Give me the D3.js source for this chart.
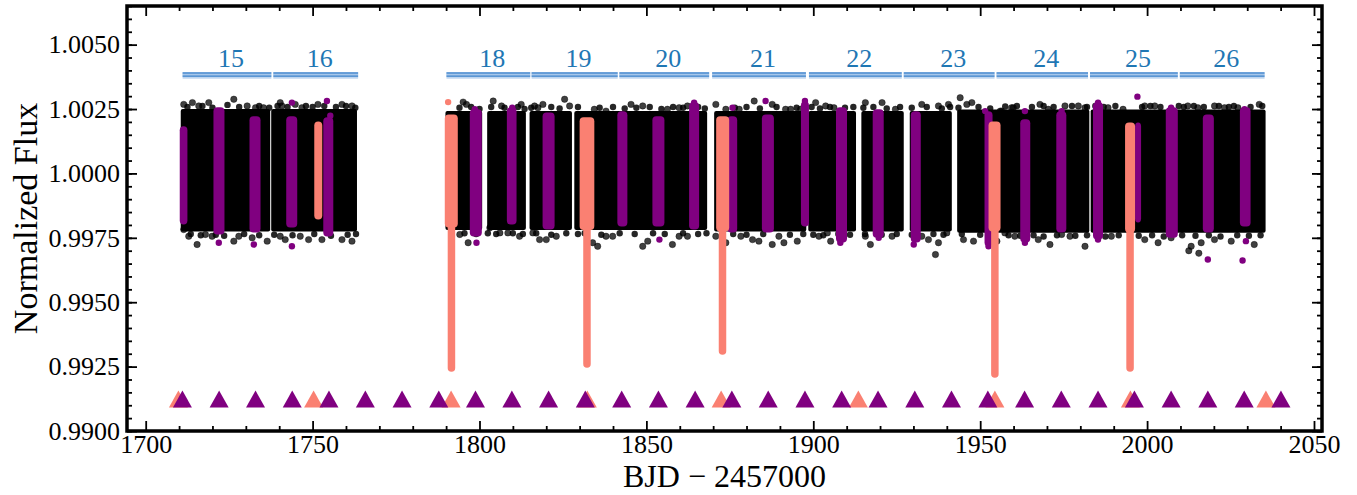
<!DOCTYPE html>
<html>
<head>
<meta charset="utf-8">
<script src="https://cdn.jsdelivr.net/npm/d3@7"></script>
<style>
  body { margin: 0; background: #fff; }
  svg text { font-family: "Liberation Serif", "DejaVu Serif", serif; }
  .tick line { stroke: #000; stroke-width: 1.8px; }
</style>
</head>
<body>
<div id="chart"></div>
<script>
// ---- data ----

// TESS sectors shown above the light curve
var sectorNames = ["15", "16", "18", "19", "20", "21", "22", "23", "24", "25", "26"];
var sectorStart = [1711.05, 1738.24, 1790.1, 1815.6, 1841.9, 1869.7, 1898.7, 1927.1, 1954.9, 1982.9, 2009.8];
var sectorEnd   = [1737.65, 1763.64, 1815.2, 1841.4, 1868.8, 1897.8, 1926.5, 1954.3, 1982.3, 2009.2, 2035.2];

// dense out-of-transit flux per orbit: [start, end, low, high]
var bandSegments = [
  [1710.5, 1737.3, 0.99775, 1.00250],
  [1737.6, 1763.3, 0.99775, 1.00250],
  [1789.8, 1800.8, 0.99780, 1.00242],
  [1802.3, 1813.9, 0.99780, 1.00242],
  [1815.0, 1827.7, 0.99780, 1.00242],
  [1828.4, 1868.2, 0.99780, 1.00242],
  [1870.3, 1897.9, 0.99775, 1.00242],
  [1898.5, 1912.8, 0.99775, 1.00242],
  [1914.4, 1927.1, 0.99775, 1.00242],
  [1928.9, 1941.5, 0.99775, 1.00242],
  [1943.1, 1982.7, 0.99770, 1.00248],
  [1983.1, 2035.5, 0.99770, 1.00248]
];

// ragged rim of the dense band: [time, flux]
var bandEdge = [
  [1712.5,1.00258],[1717.0,1.00262],[1720.0,1.00255],[1724.5,1.00266],[1728.0,1.00258],[1734.0,1.00262],
  [1737.0,1.00255],[1739.5,1.00262],[1742.5,1.00258],[1748.0,1.00262],[1750.0,1.00258],[1753.5,1.00262],
  [1757.0,1.00258],[1760.0,1.00262],[1762.8,1.00255],
  [1713.5,0.99765],[1716.5,0.99760],[1721.0,0.99762],[1723.5,0.99758],[1729.5,0.99765],[1734.0,0.99760],
  [1738.5,0.99762],[1744.0,0.99760],[1750.5,0.99765],[1755.5,0.99758],[1760.5,0.99762],[1763.0,0.99765],
  [1794.0,1.00255],[1797.5,1.00258],[1800.0,1.00250],[1803.5,1.00258],[1807.5,1.00255],[1811.5,1.00258],
  [1813.5,1.00250],[1815.5,1.00255],[1821.5,1.00258],[1824.0,1.00252],[1829.5,1.00258],[1836.0,1.00255],
  [1840.0,1.00258],[1843.5,1.00252],[1847.0,1.00255],[1851.0,1.00258],[1854.5,1.00250],[1858.0,1.00258],
  [1861.0,1.00255],[1865.5,1.00258],[1867.5,1.00252],
  [1795.5,0.99768],[1799.0,0.99765],[1802.5,0.99768],[1805.0,0.99765],[1810.0,0.99768],[1813.0,0.99765],
  [1817.0,0.99768],[1821.5,0.99762],[1826.0,0.99768],[1829.5,0.99765],[1831.5,0.99768],[1836.5,0.99762],
  [1842.0,0.99768],[1846.5,0.99765],[1852.0,0.99768],[1855.5,0.99765],[1861.0,0.99768],[1865.5,0.99765],
  [1868.0,0.99768],
  [1876.5,1.00255],[1880.0,1.00258],[1884.0,1.00252],[1889.0,1.00258],[1895.0,1.00255],[1899.5,1.00258],
  [1902.0,1.00252],[1905.0,1.00258],[1909.5,1.00255],[1912.0,1.00258],[1915.0,1.00255],[1918.0,1.00258],
  [1922.0,1.00252],[1926.0,1.00258],[1929.5,1.00255],[1934.0,1.00258],[1938.5,1.00252],[1941.0,1.00258],
  [1943.5,1.00255],[1949.5,1.00258],[1953.0,1.00252],
  [1876.0,0.99765],[1880.0,0.99762],[1885.0,0.99765],[1893.0,0.99762],[1897.0,0.99765],[1900.0,0.99762],
  [1903.0,0.99760],[1907.5,0.99765],[1911.0,0.99762],[1915.5,0.99765],[1920.5,0.99762],[1925.0,0.99765],
  [1929.5,0.99762],[1936.0,0.99765],[1939.0,0.99762],[1944.5,0.99765],[1950.0,0.99762],
  [1957.5,1.00260],[1961.0,1.00262],[1965.5,1.00258],[1969.0,1.00262],[1972.0,1.00258],[1977.5,1.00262],
  [1982.0,1.00258],[1984.5,1.00262],[1987.0,1.00258],[1990.5,1.00262],[1998.5,1.00258],[2001.0,1.00262],
  [2004.0,1.00258],[2009.5,1.00262],[2011.0,1.00258],[2014.0,1.00262],[2017.0,1.00258],[2021.5,1.00262],
  [2024.5,1.00258],[2026.0,1.00262],[2031.0,1.00258],[2034.5,1.00262],
  [1958.5,0.99760],[1962.0,0.99758],[1966.0,0.99760],[1969.0,0.99755],[1973.0,0.99760],[1978.5,0.99758],
  [1982.0,0.99760],[1987.5,0.99755],[1991.5,0.99760],[1997.5,0.99758],[2001.5,0.99760],[2005.0,0.99755],
  [2010.5,0.99760],[2014.5,0.99758],[2018.5,0.99760],[2022.0,0.99755],[2027.0,0.99760],[2030.5,0.99758],
  [2034.0,0.99760]
];

// scattered points beyond the dense band: [time, flux]
var blackOutliers = [
  [1711.4,1.00268],[1714.0,1.00275],[1715.9,1.00262],[1718.9,1.00275],[1726.4,1.00288],[1730.4,1.00262],
  [1732.9,1.00255],[1735.3,1.00255],[1740.3,1.00275],[1740.8,1.00262],[1744.8,1.00268],[1746.8,1.00255],
  [1751.6,1.00268],[1758.8,1.00268],[1761.8,1.00262],
  [1711.4,0.99782],[1712.9,0.99756],[1715.4,0.99724],[1717.9,0.99763],[1719.9,0.99756],[1726.4,0.99737],
  [1727.9,0.99756],[1731.9,0.99750],[1736.4,0.99737],[1740.3,0.99756],[1741.8,0.99743],[1746.3,0.99756],
  [1748.8,0.99743],[1752.8,0.99743],[1758.8,0.99743],[1761.8,0.99737],
  [1795.1,1.00277],[1796.1,1.00268],[1804.1,1.00281],[1806.6,1.00262],[1812.5,1.00268],[1816.5,1.00262],
  [1817.5,1.00255],[1819.0,1.00268],[1825.5,1.00288],[1827.0,1.00262],[1834.4,1.00249],[1837.9,1.00242],
  [1845.4,1.00268],[1848.9,1.00262],[1856.3,1.00249],[1859.8,1.00255],[1862.3,1.00262],[1870.8,1.00268],
  [1873.8,1.00249],
  [1794.1,0.99763],[1796.6,0.99731],[1803.1,0.99789],[1806.1,0.99769],[1808.5,0.99769],[1812.0,0.99756],
  [1816.0,0.99769],[1818.0,0.99743],[1820.0,0.99743],[1823.0,0.99756],[1833.9,0.99731],[1835.4,0.99717],
  [1837.9,0.99756],[1839.9,0.99756],[1848.9,0.99717],[1850.4,0.99737],[1857.8,0.99724],[1859.8,0.99756],
  [1862.3,0.99756],[1870.8,0.99756],[1873.8,0.99731],
  [1877.8,1.00249],[1882.3,1.00281],[1887.7,1.00268],[1891.7,1.00249],[1893.2,1.00249],[1896.2,1.00249],
  [1900.7,1.00275],[1903.7,1.00262],[1906.2,1.00255],[1915.6,1.00275],[1920.6,1.00275],[1924.6,1.00249],
  [1932.5,1.00268],[1937.5,1.00262],[1940.5,1.00268],[1944.0,1.00294],[1946.0,1.00268],[1947.5,1.00275],
  [1956.0,1.00242],[1959.4,1.00255],
  [1878.3,0.99756],[1881.8,0.99743],[1883.7,0.99737],[1887.7,0.99724],[1889.7,0.99756],[1891.2,0.99731],
  [1895.2,0.99737],[1901.7,0.99756],[1904.2,0.99769],[1905.2,0.99737],[1915.6,0.99756],[1917.1,0.99724],
  [1923.6,0.99756],[1932.5,0.99756],[1934.5,0.99743],[1936.6,0.99685],[1937.5,0.99731],[1940.0,0.99769],
  [1945.0,0.99743],[1948.0,0.99737],[1955.0,0.99737],
  [1956.4,1.00242],[1959.9,1.00255],[1967.9,1.00268],[1970.4,1.00249],[1975.4,1.00262],[1979.4,1.00262],
  [1981.4,1.00255],[1988.3,1.00255],[1992.8,1.00249],[1999.3,1.00262],[2002.3,1.00262],[2012.2,1.00262],
  [2015.2,1.00255],[2020.2,1.00262],[2023.2,1.00255],[2027.2,1.00255],[2033.6,1.00268],
  [1957.4,0.99769],[1960.4,0.99756],[1967.4,0.99743],[1970.9,0.99724],[1974.4,0.99763],[1976.9,0.99756],
  [1981.4,0.99717],[1989.3,0.99756],[1999.3,0.99743],[2003.3,0.99731],[2007.2,0.99750],[2012.5,0.99700],
  [2013.2,0.99717],[2015.5,0.99690],[2016.2,0.99731],[2020.2,0.99743],[2025.2,0.99737],[2032.1,0.99724]
];

// in-transit points of the shallow planet: [start, end, low, high]
var purpleColumns = [
  [1710.2, 1712.5, 0.99802, 1.00183],
  [1720.3, 1723.6, 0.99763, 1.00257],
  [1731.1, 1734.4, 0.99771, 1.00222],
  [1742.1, 1745.4, 0.99790, 1.00222],
  [1753.2, 1756.2, 0.99755, 1.00218],
  [1797.1, 1800.7, 0.99755, 1.00249],
  [1808.2, 1811.1, 0.99802, 1.00257],
  [1818.9, 1822.5, 0.99782, 1.00237],
  [1841.3, 1844.3, 0.99794, 1.00241],
  [1851.8, 1855.4, 0.99794, 1.00222],
  [1862.8, 1865.8, 0.99782, 1.00276],
  [1874.2, 1877.2, 0.99771, 1.00222],
  [1884.6, 1888.2, 0.99771, 1.00229],
  [1896.3, 1898.7, 0.99794, 1.00280],
  [1906.8, 1910.1, 0.99732, 1.00257],
  [1917.8, 1921.1, 0.99750, 1.00249],
  [1929.2, 1932.2, 0.99732, 1.00241],
  [1951.3, 1953.7, 0.99716, 1.00241],
  [1962.0, 1965.0, 0.99732, 1.00210],
  [1972.8, 1975.8, 0.99771, 1.00241],
  [1983.8, 1986.8, 0.99743, 1.00276],
  [1996.4, 1998.2, 0.99809, 1.00198],
  [2005.6, 2009.2, 0.99750, 1.00257],
  [2016.7, 2020.0, 0.99771, 1.00229],
  [2027.8, 2031.0, 0.99794, 1.00257]
];
var purpleOutliers = [
  [1721.9,0.99731],[1732.4,0.99724],[1743.8,0.99717],[1743.8,1.00275],[1754.3,1.00281],[1755.3,1.00224],
  [1798.6,1.00249],[1809.8,1.00255],[1799.1,0.99731],[1853.9,0.99743],[1864.3,1.00275],[1875.8,1.00255],
  [1885.7,1.00281],[1897.5,1.00281],[1951.5,1.00242],[1908.1,0.99731],[1919.6,0.99750],[1930.1,0.99724],
  [1952.5,0.99717],[1963.4,1.00242],[1974.4,1.00242],[1985.3,1.00275],[1997.1,1.00298],[2007.2,1.00255],
  [2029.2,1.00249],[1963.4,0.99731],[1985.3,0.99743],[2029.6,0.99737],[2018.2,0.99666],[2028.6,0.99662]
];

// in-transit points of the deep planet: [start, end, low, high, centre, deepest]
var salmonColumns = [
  [1750.5, 1752.9, 0.99821, 1.00202, null, null],
  [1789.6, 1793.5, 0.99790, 1.00229, 1791.6, 0.99230],
  [1830.0, 1834.4, 0.99780, 1.00218, 1832.2, 0.99246],
  [1870.9, 1874.8, 0.99775, 1.00222, 1872.8, 0.99296],
  [1952.5, 1956.1, 0.99775, 1.00202, 1954.4, 0.99207],
  [1993.4, 1996.4, 0.99770, 1.00198, 1994.9, 0.99230]
];
var salmonOutliers = [[1790.6, 1.00277]];

// predicted transit times (triangles)
var salmonTransits = [1709.8, 1750.3, 1791.5, 1832.3, 1872.4, 1913.5, 1954.4, 1995.0, 2035.6];
var purpleTransits = [1711.0, 1722.0, 1732.9, 1743.9, 1754.9, 1765.8, 1776.8, 1787.8, 1798.8, 1809.7,
  1820.7, 1831.7, 1842.6, 1853.6, 1864.6, 1875.6, 1886.5, 1897.5, 1908.5, 1919.4, 1930.4, 1941.4,
  1952.3, 1963.3, 1974.3, 1985.3, 1996.2, 2007.2, 2018.2, 2029.1, 2040.1];

var xMajorTicks = [1700, 1750, 1800, 1850, 1900, 1950, 2000, 2050];
var yMajorTicks = [0.9900, 0.9925, 0.9950, 0.9975, 1.0000, 1.0025, 1.0050];

// ---- layout ----
var svgWidth = 1357;
var svgHeight = 495;
var margin = { top: 6, right: 35, bottom: 64, left: 127 };
var width = svgWidth - margin.left - margin.right;
var height = svgHeight - margin.top - margin.bottom;
var serif = '"Liberation Serif", "DejaVu Serif", serif';

var svg = d3.select("#chart").append("svg")
  .attr("width", svgWidth)
  .attr("height", svgHeight)
  .attr("font-family", serif);

var chartGroup = svg.append("g")
  .attr("transform", `translate(${margin.left}, ${margin.top})`);

var xScale = d3.scaleLinear().domain([1694.4, 2052.4]).range([0, width]);
var yScale = d3.scaleLinear().domain([0.99, 1.0065]).range([height, 0]);

var ptR = 3.2;

// black band
chartGroup.append("g").selectAll("rect")
  .data(bandSegments).enter().append("rect")
  .attr("x", d => xScale(d[0]))
  .attr("width", d => xScale(d[1]) - xScale(d[0]))
  .attr("y", d => yScale(d[3]))
  .attr("height", d => yScale(d[2]) - yScale(d[3]))
  .attr("rx", 2)
  .attr("fill", "#000");

chartGroup.append("g").selectAll("circle")
  .data(bandEdge).enter().append("circle")
  .attr("cx", d => xScale(d[0]))
  .attr("cy", d => yScale(d[1]))
  .attr("r", ptR)
  .attr("fill", "#000")
  .attr("fill-opacity", 0.85);

chartGroup.append("g").selectAll("circle")
  .data(blackOutliers).enter().append("circle")
  .attr("cx", d => xScale(d[0]))
  .attr("cy", d => yScale(d[1]))
  .attr("r", ptR)
  .attr("fill", "#000")
  .attr("fill-opacity", 0.75)
  .attr("stroke", "#000")
  .attr("stroke-opacity", 0.5)
  .attr("stroke-width", 0.8);

// purple transits
chartGroup.append("g").selectAll("rect")
  .data(purpleColumns).enter().append("rect")
  .attr("x", d => xScale(d[0]))
  .attr("width", d => xScale(d[1]) - xScale(d[0]))
  .attr("y", d => yScale(d[3]))
  .attr("height", d => yScale(d[2]) - yScale(d[3]))
  .attr("rx", 4)
  .attr("fill", "#800080");

chartGroup.append("g").selectAll("circle")
  .data(purpleOutliers).enter().append("circle")
  .attr("cx", d => xScale(d[0]))
  .attr("cy", d => yScale(d[1]))
  .attr("r", ptR)
  .attr("fill", "#800080");

// salmon transits
chartGroup.append("g").selectAll("rect")
  .data(salmonColumns).enter().append("rect")
  .attr("x", d => xScale(d[0]))
  .attr("width", d => xScale(d[1]) - xScale(d[0]))
  .attr("y", d => yScale(d[3]))
  .attr("height", d => yScale(d[2]) - yScale(d[3]))
  .attr("rx", 4)
  .attr("fill", "#fa8072");

chartGroup.append("g").selectAll("line")
  .data(salmonColumns.filter(d => d[4] !== null)).enter().append("line")
  .attr("x1", d => xScale(d[4]))
  .attr("x2", d => xScale(d[4]))
  .attr("y1", d => yScale(d[2]))
  .attr("y2", d => yScale(d[5]) - 3.75)
  .attr("stroke", "#fa8072")
  .attr("stroke-width", 7.5)
  .attr("stroke-linecap", "round");

chartGroup.append("g").selectAll("circle")
  .data(salmonOutliers).enter().append("circle")
  .attr("cx", d => xScale(d[0]))
  .attr("cy", d => yScale(d[1]))
  .attr("r", ptR)
  .attr("fill", "#fa8072");

// transit markers
var triFlux = 0.99124;
var triPath = "M0,-8.5L9.5,8.5L-9.5,8.5Z";
chartGroup.append("g").selectAll("path")
  .data(salmonTransits).enter().append("path")
  .attr("d", triPath)
  .attr("transform", d => `translate(${xScale(d)}, ${yScale(triFlux)})`)
  .attr("fill", "#fa8072");
chartGroup.append("g").selectAll("path")
  .data(purpleTransits).enter().append("path")
  .attr("d", triPath)
  .attr("transform", d => `translate(${xScale(d)}, ${yScale(triFlux)})`)
  .attr("fill", "#800080");

// sector bars and labels
var barY = yScale(1.0038);
var sectorGroup = chartGroup.append("g");
sectorNames.forEach(function(name, i) {
  var x0 = xScale(sectorStart[i]);
  var x1 = xScale(sectorEnd[i]);
  sectorGroup.append("rect")
    .attr("x", x0).attr("width", x1 - x0)
    .attr("y", barY - 3.4).attr("height", 6.8)
    .attr("fill", "#cfe0f4");
  sectorGroup.append("rect")
    .attr("x", x0).attr("width", x1 - x0)
    .attr("y", barY - 3.4).attr("height", 1.8)
    .attr("fill", "#5a96d4");
  sectorGroup.append("rect")
    .attr("x", x0).attr("width", x1 - x0)
    .attr("y", barY - 1.6).attr("height", 1.3)
    .attr("fill", "#a6c6ea");
  sectorGroup.append("rect")
    .attr("x", x0).attr("width", x1 - x0)
    .attr("y", barY - 0.3).attr("height", 1.9)
    .attr("fill", "#5a96d4");
  sectorGroup.append("text")
    .attr("x", (x0 + x1) / 2 + 4)
    .attr("y", barY - 9)
    .attr("text-anchor", "middle")
    .attr("font-size", "26px")
    .attr("fill", "#1f77b4")
    .text(name);
});

// axes (ticks pointing inward on all four sides)
var xMinor = d3.range(1700, 2051, 10).filter(v => v % 50 !== 0);
var yMinor = d3.range(0, 34).map(i => 0.99 + i * 0.0005).filter(v => v <= 1.0065);

function styleAxis(g) {
  g.attr("font-family", serif).attr("font-size", "26px");
  g.select(".domain").remove();
  g.selectAll("text").attr("fill", "#000");
}

chartGroup.append("g")
  .attr("transform", `translate(0, ${height})`)
  .call(d3.axisBottom(xScale).tickValues(xMajorTicks).tickFormat(d3.format("d"))
    .tickSizeInner(-10).tickSizeOuter(0).tickPadding(4))
  .call(styleAxis);
chartGroup.append("g")
  .attr("transform", `translate(0, ${height})`)
  .call(d3.axisBottom(xScale).tickValues(xMinor).tickFormat("").tickSizeInner(-5).tickSizeOuter(0))
  .call(styleAxis);
chartGroup.append("g")
  .call(d3.axisTop(xScale).tickValues(xMajorTicks).tickFormat("").tickSizeInner(-10).tickSizeOuter(0))
  .call(styleAxis);
chartGroup.append("g")
  .call(d3.axisTop(xScale).tickValues(xMinor).tickFormat("").tickSizeInner(-5).tickSizeOuter(0))
  .call(styleAxis);

chartGroup.append("g")
  .call(d3.axisLeft(yScale).tickValues(yMajorTicks).tickFormat(d3.format(".4f"))
    .tickSizeInner(-10).tickSizeOuter(0).tickPadding(7))
  .call(styleAxis);
chartGroup.append("g")
  .call(d3.axisLeft(yScale).tickValues(yMinor).tickFormat("").tickSizeInner(-5).tickSizeOuter(0))
  .call(styleAxis);
chartGroup.append("g")
  .attr("transform", `translate(${width}, 0)`)
  .call(d3.axisRight(yScale).tickValues(yMajorTicks).tickFormat("").tickSizeInner(-10).tickSizeOuter(0))
  .call(styleAxis);
chartGroup.append("g")
  .attr("transform", `translate(${width}, 0)`)
  .call(d3.axisRight(yScale).tickValues(yMinor).tickFormat("").tickSizeInner(-5).tickSizeOuter(0))
  .call(styleAxis);

// frame
chartGroup.append("rect")
  .attr("x", 0).attr("y", 0)
  .attr("width", width).attr("height", height)
  .attr("fill", "none")
  .attr("stroke", "#000")
  .attr("stroke-width", 3.5);

// axis titles
svg.append("text")
  .attr("x", margin.left + width / 2)
  .attr("y", 487)
  .attr("text-anchor", "middle")
  .attr("font-size", "32px")
  .text("BJD \u2212 2457000");

svg.append("text")
  .attr("transform", `translate(37, ${margin.top + height / 2}) rotate(-90)`)
  .attr("text-anchor", "middle")
  .attr("font-size", "34px")
  .text("Normalized Flux");
</script>
</body>
</html>
